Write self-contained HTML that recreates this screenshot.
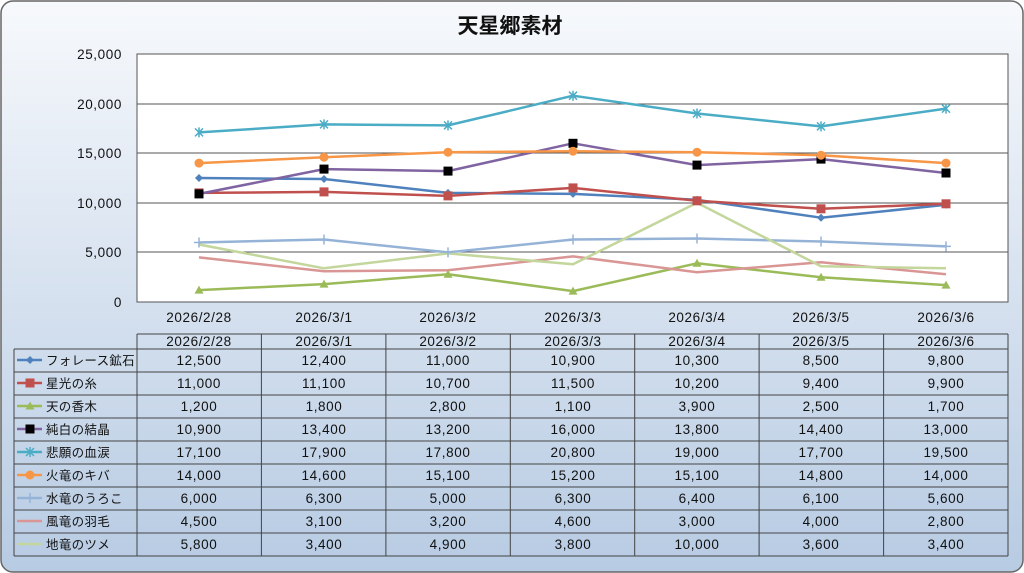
<!DOCTYPE html>
<html><head><meta charset="utf-8"><style>
body{margin:0;width:1024px;height:573px;overflow:hidden;background:#fff}
svg{display:block}
text{font-family:"Liberation Sans","Noto Sans CJK JP",sans-serif;fill:#111}
.n{letter-spacing:0.6px}
</style></head><body>
<svg width="1024" height="573" viewBox="0 0 1024 573" xmlns="http://www.w3.org/2000/svg">
<defs>
<linearGradient id="bg" x1="0" y1="0" x2="0" y2="1"><stop offset="0" stop-color="#f7f9fc"/><stop offset="1" stop-color="#b7cbe3"/></linearGradient>
<symbol id="dia" overflow="visible"><path d="M0,-4L4,0L0,4L-4,0Z" fill="#4f81bd"/></symbol>
<symbol id="sq" overflow="visible"><rect x="-4.5" y="-4.5" width="9" height="9" fill="#c0504d"/></symbol>
<symbol id="tri" overflow="visible"><path d="M0,-4.5L4.5,3.5L-4.5,3.5Z" fill="#9bbb59"/></symbol>
<symbol id="bsq" overflow="visible"><rect x="-4.5" y="-4.5" width="9" height="9" fill="#000"/></symbol>
<symbol id="ast" overflow="visible"><path d="M-4,-4L4,4M-4,4L4,-4M0,-5V5" stroke="#4bacc6" stroke-width="1.5"/></symbol>
<symbol id="cir" overflow="visible"><circle r="4.5" fill="#f79646"/></symbol>
<symbol id="plus" overflow="visible"><path d="M-5,0H5M0,-5V5" stroke="#95b3d7" stroke-width="1.5"/></symbol>
</defs>
<rect x="1" y="1" width="1022" height="571" rx="12" fill="url(#bg)" stroke="#666" stroke-width="1.5"/>
<text x="510" y="33" text-anchor="middle" font-size="21" font-weight="bold">天星郷素材</text>
<rect x="137" y="54" width="871" height="248" fill="#fff" stroke="#555"/>
<g stroke="#555" stroke-width="1">
<line x1="137" y1="104" x2="1008" y2="104"/><line x1="137" y1="153" x2="1008" y2="153"/><line x1="137" y1="203" x2="1008" y2="203"/><line x1="137" y1="252" x2="1008" y2="252"/>
</g>
<g font-size="13.5" text-anchor="end" class="n">
<text x="122" y="59">25,000</text><text x="122" y="109">20,000</text><text x="122" y="158">15,000</text><text x="122" y="208">10,000</text><text x="122" y="257">5,000</text><text x="122" y="307">0</text>
</g>
<g font-size="13.5" text-anchor="middle" class="n">
<text x="199" y="322">2026/2/28</text><text x="324" y="322">2026/3/1</text><text x="448" y="322">2026/3/2</text><text x="573" y="322">2026/3/3</text><text x="697" y="322">2026/3/4</text><text x="821" y="322">2026/3/5</text><text x="946" y="322">2026/3/6</text>
</g>
<g fill="none" stroke-width="2.5" stroke-linejoin="round">
<polyline stroke="#4f81bd" points="199,178 324,179 448,192.9 573,193.9 697,199.8 821,217.7 946,204.8"/>
<polyline stroke="#c0504d" points="199,192.9 324,191.9 448,195.9 573,187.9 697,200.8 821,208.8 946,203.8"/>
<polyline stroke="#9bbb59" points="199,290.1 324,284.1 448,274.2 573,291.1 697,263.3 821,277.2 946,285.1"/>
<polyline stroke="#8064a2" points="199,193.9 324,169.1 448,171.1 573,143.3 697,165.1 821,159.1 946,173"/>
<polyline stroke="#4bacc6" points="199,132.4 324,124.4 448,125.4 573,95.7 697,113.5 821,126.4 946,108.6"/>
<polyline stroke="#f79646" points="199,163.1 324,157.2 448,152.2 573,151.2 697,152.2 821,155.2 946,163.1"/>
<polyline stroke="#95b3d7" points="199,242.5 324,239.5 448,252.4 573,239.5 697,238.5 821,241.5 946,246.4"/>
<polyline stroke="#d99694" points="199,257.4 324,271.2 448,270.3 573,256.4 697,272.2 821,262.3 946,274.2"/>
<polyline stroke="#c3d69b" points="199,244.5 324,268.3 448,253.4 573,264.3 697,202.8 821,266.3 946,268.3"/>
</g>
<g>
<use href="#dia" x="199" y="178"/><use href="#dia" x="324" y="179"/><use href="#dia" x="448" y="192.9"/><use href="#dia" x="573" y="193.9"/><use href="#dia" x="697" y="199.8"/><use href="#dia" x="821" y="217.7"/><use href="#dia" x="946" y="204.8"/>
<use href="#sq" x="199" y="192.9"/><use href="#sq" x="324" y="191.9"/><use href="#sq" x="448" y="195.9"/><use href="#sq" x="573" y="187.9"/><use href="#sq" x="697" y="200.8"/><use href="#sq" x="821" y="208.8"/><use href="#sq" x="946" y="203.8"/>
<use href="#tri" x="199" y="290.1"/><use href="#tri" x="324" y="284.1"/><use href="#tri" x="448" y="274.2"/><use href="#tri" x="573" y="291.1"/><use href="#tri" x="697" y="263.3"/><use href="#tri" x="821" y="277.2"/><use href="#tri" x="946" y="285.1"/>
<use href="#bsq" x="199" y="193.9"/><use href="#bsq" x="324" y="169.1"/><use href="#bsq" x="448" y="171.1"/><use href="#bsq" x="573" y="143.3"/><use href="#bsq" x="697" y="165.1"/><use href="#bsq" x="821" y="159.1"/><use href="#bsq" x="946" y="173"/>
<use href="#ast" x="199" y="132.4"/><use href="#ast" x="324" y="124.4"/><use href="#ast" x="448" y="125.4"/><use href="#ast" x="573" y="95.7"/><use href="#ast" x="697" y="113.5"/><use href="#ast" x="821" y="126.4"/><use href="#ast" x="946" y="108.6"/>
<use href="#cir" x="199" y="163.1"/><use href="#cir" x="324" y="157.2"/><use href="#cir" x="448" y="152.2"/><use href="#cir" x="573" y="151.2"/><use href="#cir" x="697" y="152.2"/><use href="#cir" x="821" y="155.2"/><use href="#cir" x="946" y="163.1"/>
<use href="#plus" x="199" y="242.5"/><use href="#plus" x="324" y="239.5"/><use href="#plus" x="448" y="252.4"/><use href="#plus" x="573" y="239.5"/><use href="#plus" x="697" y="238.5"/><use href="#plus" x="821" y="241.5"/><use href="#plus" x="946" y="246.4"/>
</g>
<g stroke="#444" stroke-width="1" fill="none">
<path d="M137,334H1008M14,349H1008M14,372H1008M14,395H1008M14,418H1008M14,441H1008M14,464H1008M14,487H1008M14,510H1008M14,533H1008M14,556H1008"/>
<path d="M14,349V556M137,334V556M261.4,334V556M385.9,334V556M510.3,334V556M634.7,334V556M759.1,334V556M883.6,334V556M1008,334V556"/>
</g>
<g font-size="13.5" text-anchor="middle" class="n">
<text x="199" y="346">2026/2/28</text><text x="324" y="346">2026/3/1</text><text x="448" y="346">2026/3/2</text><text x="573" y="346">2026/3/3</text><text x="697" y="346">2026/3/4</text><text x="821" y="346">2026/3/5</text><text x="946" y="346">2026/3/6</text>
</g>
<g stroke-width="2.5">
<line x1="17" y1="360" x2="42" y2="360" stroke="#4f81bd"/><use href="#dia" x="30" y="360"/>
<line x1="17" y1="383" x2="42" y2="383" stroke="#c0504d"/><use href="#sq" x="30" y="383"/>
<line x1="17" y1="406" x2="42" y2="406" stroke="#9bbb59"/><use href="#tri" x="30" y="406"/>
<line x1="17" y1="429" x2="42" y2="429" stroke="#8064a2"/><use href="#bsq" x="30" y="429"/>
<line x1="17" y1="452" x2="42" y2="452" stroke="#4bacc6"/><use href="#ast" x="30" y="452"/>
<line x1="17" y1="475" x2="42" y2="475" stroke="#f79646"/><use href="#cir" x="30" y="475"/>
<line x1="17" y1="498" x2="42" y2="498" stroke="#95b3d7"/><use href="#plus" x="30" y="498"/>
<line x1="17" y1="521" x2="42" y2="521" stroke="#d99694"/>
<line x1="17" y1="544" x2="42" y2="544" stroke="#c3d69b"/>
</g>
<g font-size="12.5" letter-spacing="0.3">
<text x="46" y="365">フォレース鉱石</text><text x="46" y="388">星光の糸</text><text x="46" y="411">天の香木</text><text x="46" y="434">純白の結晶</text><text x="46" y="457">悲願の血涙</text><text x="46" y="480">火竜のキバ</text><text x="46" y="503">水竜のうろこ</text><text x="46" y="526">風竜の羽毛</text><text x="46" y="549">地竜のツメ</text>
</g>
<g font-size="13.5" text-anchor="middle" class="n">
<text x="199" y="365">12,500</text><text x="324" y="365">12,400</text><text x="448" y="365">11,000</text><text x="573" y="365">10,900</text><text x="697" y="365">10,300</text><text x="821" y="365">8,500</text><text x="946" y="365">9,800</text>
<text x="199" y="388">11,000</text><text x="324" y="388">11,100</text><text x="448" y="388">10,700</text><text x="573" y="388">11,500</text><text x="697" y="388">10,200</text><text x="821" y="388">9,400</text><text x="946" y="388">9,900</text>
<text x="199" y="411">1,200</text><text x="324" y="411">1,800</text><text x="448" y="411">2,800</text><text x="573" y="411">1,100</text><text x="697" y="411">3,900</text><text x="821" y="411">2,500</text><text x="946" y="411">1,700</text>
<text x="199" y="434">10,900</text><text x="324" y="434">13,400</text><text x="448" y="434">13,200</text><text x="573" y="434">16,000</text><text x="697" y="434">13,800</text><text x="821" y="434">14,400</text><text x="946" y="434">13,000</text>
<text x="199" y="457">17,100</text><text x="324" y="457">17,900</text><text x="448" y="457">17,800</text><text x="573" y="457">20,800</text><text x="697" y="457">19,000</text><text x="821" y="457">17,700</text><text x="946" y="457">19,500</text>
<text x="199" y="480">14,000</text><text x="324" y="480">14,600</text><text x="448" y="480">15,100</text><text x="573" y="480">15,200</text><text x="697" y="480">15,100</text><text x="821" y="480">14,800</text><text x="946" y="480">14,000</text>
<text x="199" y="503">6,000</text><text x="324" y="503">6,300</text><text x="448" y="503">5,000</text><text x="573" y="503">6,300</text><text x="697" y="503">6,400</text><text x="821" y="503">6,100</text><text x="946" y="503">5,600</text>
<text x="199" y="526">4,500</text><text x="324" y="526">3,100</text><text x="448" y="526">3,200</text><text x="573" y="526">4,600</text><text x="697" y="526">3,000</text><text x="821" y="526">4,000</text><text x="946" y="526">2,800</text>
<text x="199" y="549">5,800</text><text x="324" y="549">3,400</text><text x="448" y="549">4,900</text><text x="573" y="549">3,800</text><text x="697" y="549">10,000</text><text x="821" y="549">3,600</text><text x="946" y="549">3,400</text>
</g>
</svg>
</body></html>
